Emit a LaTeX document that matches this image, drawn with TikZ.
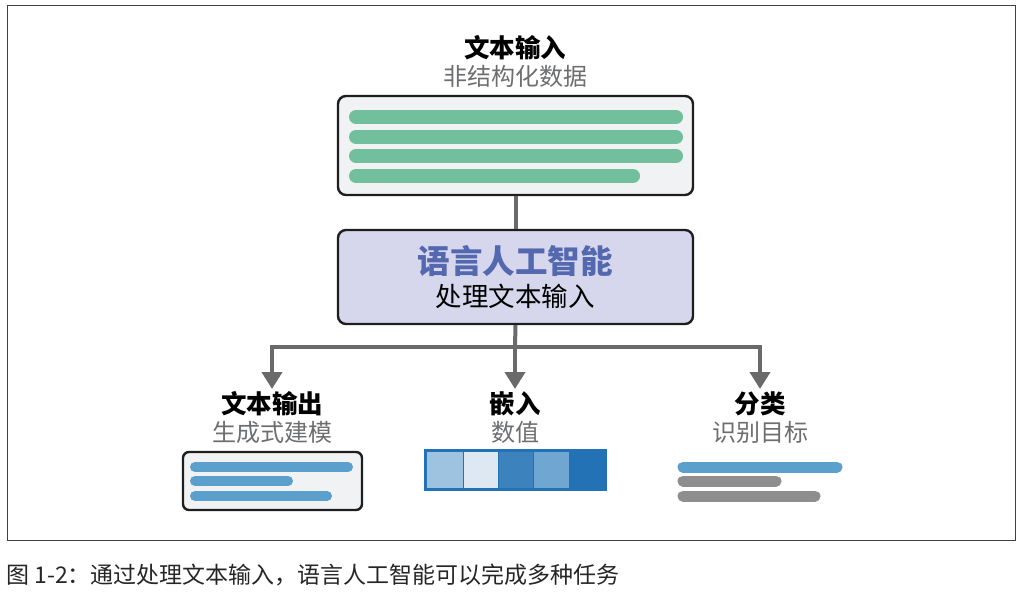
\documentclass[tikz,border=0pt]{standalone}
\usepackage{fontspec}
\setmainfont{Noto Sans CJK SC}
\usetikzlibrary{arrows.meta}
\definecolor{boxfill}{HTML}{F1F2F3}
\definecolor{boxline}{HTML}{1E1E1E}
\definecolor{subgray}{HTML}{6D6E70}
\definecolor{greenbar}{HTML}{72BF9E}
\definecolor{bluebar}{HTML}{5B9FCC}
\definecolor{graybar}{HTML}{8E8E8E}
\definecolor{lav}{HTML}{D6D7EC}
\definecolor{aiblue}{HTML}{5468B0}
\definecolor{conn}{HTML}{6A6A6A}
\definecolor{eA}{HTML}{9DC3E0}
\definecolor{eB}{HTML}{DDE8F3}
\definecolor{eC}{HTML}{3C82BC}
\definecolor{eD}{HTML}{70A7D2}
\definecolor{eE}{HTML}{2272B5}
\tikzset{
  panel/.style={draw=boxline, line width=2.4pt, rounded corners=8pt, inner sep=0pt},
  title/.style={font=\fontsize{25.5}{28}\selectfont\bfseries, text=black, inner sep=0pt, anchor=center},
  subtitle/.style={font=\fontsize{24}{26}\selectfont, text=subgray, inner sep=0pt, anchor=center},
  bar/.style={line width=#1, line cap=round},
  arr/.style={draw=conn, line width=4pt, -{Triangle[width=20pt,length=17pt]}},
  link/.style={draw=conn, line width=4pt},
}
\begin{document}
\begin{tikzpicture}[x=1pt,y=-1pt]
\useasboundingbox (0,0) rectangle (1023,596);
% frame
\draw[draw=black!75, line width=1pt] (7,6) rectangle (1015,540);

% top
\node[title] (tin) at (515,48) {文本输入};
\node[subtitle] (tsub) at (515,76) {非结构化数据};
\node[panel, fill=boxfill, minimum width=355pt, minimum height=99pt] (inbox) at (515.5,145.5) {};
\draw[bar=14pt, greenbar] (356,117) -- (676,117);
\draw[bar=14pt, greenbar] (356,137) -- (676,137);
\draw[bar=14pt, greenbar] (356,156) -- (676,156);
\draw[bar=14pt, greenbar] (356,176) -- (633,176);

% AI box
\node[panel, fill=lav, minimum width=355pt, minimum height=94pt] (ai) at (515.5,277) {};
\node[font=\fontsize{32.5}{34}\selectfont\bfseries, text=aiblue, inner sep=0pt] (ait) at (515,261) {语言人工智能};
\node[font=\fontsize{26.5}{28}\selectfont, text=black, inner sep=0pt] (ais) at (515,296) {处理文本输入};

\draw[link] (inbox.south) -- (ai.north);

% connectors
\coordinate (j) at (515,347);
\coordinate (aL) at (272,389);
\coordinate (aM) at (515,389);
\coordinate (aR) at (760,389);
\draw[link] (ai.south) -- (j);
\draw[arr] (j) -| (aL);
\draw[arr] (j) -- (aM);
\draw[arr] (j) -| (aR);

% left output
\node[title] (o1) at (272,404) {文本输出};
\node[subtitle] (o1s) at (272,432) {生成式建模};
\node[panel, fill=boxfill, minimum width=179pt, minimum height=58pt, rounded corners=6pt] (obox) at (272.5,481) {};
\draw[bar=10pt, bluebar] (195,467) -- (348,467);
\draw[bar=10pt, bluebar] (195,481) -- (288,481);
\draw[bar=10pt, bluebar] (195,496) -- (327,496);

% middle output
\node[title] (o2) at (515,404) {嵌入};
\node[subtitle] (o2s) at (515,432) {数值};
\node[draw=eE, line width=2pt, minimum width=179pt, minimum height=38pt, inner sep=0pt] (emb) at (515.5,470) {};
\fill[eA] (427,452) rectangle (462.6,488);
\fill[eB] (463.6,452) rectangle (497.6,488);
\fill[eC] (498.6,452) rectangle (533.2,488);
\fill[eD] (534.2,452) rectangle (568.8,488);
\fill[eE] (569.8,452) rectangle (604,488);
\draw[eE, line width=1pt] (463.1,452) -- (463.1,488) (498.1,452) -- (498.1,488) (533.7,452) -- (533.7,488) (569.3,452) -- (569.3,488);
\draw[draw=eE, line width=2pt] (emb.north west) rectangle (emb.south east);

% right output
\node[title] (o3) at (760,404) {分类};
\node[subtitle] (o3s) at (760,432) {识别目标};
\draw[bar=11pt, bluebar] (683,467) -- (837,467);
\draw[bar=11pt, graybar] (683,481) -- (776,481);
\draw[bar=11pt, graybar] (683,496) -- (815,496);

% caption
\node[font=\fontsize{23}{26}\selectfont, text=black!85, anchor=west, inner sep=0pt] (cap) at (6,575) {图 1-2：通过处理文本输入，语言人工智能可以完成多种任务};
\end{tikzpicture}
\end{document}
